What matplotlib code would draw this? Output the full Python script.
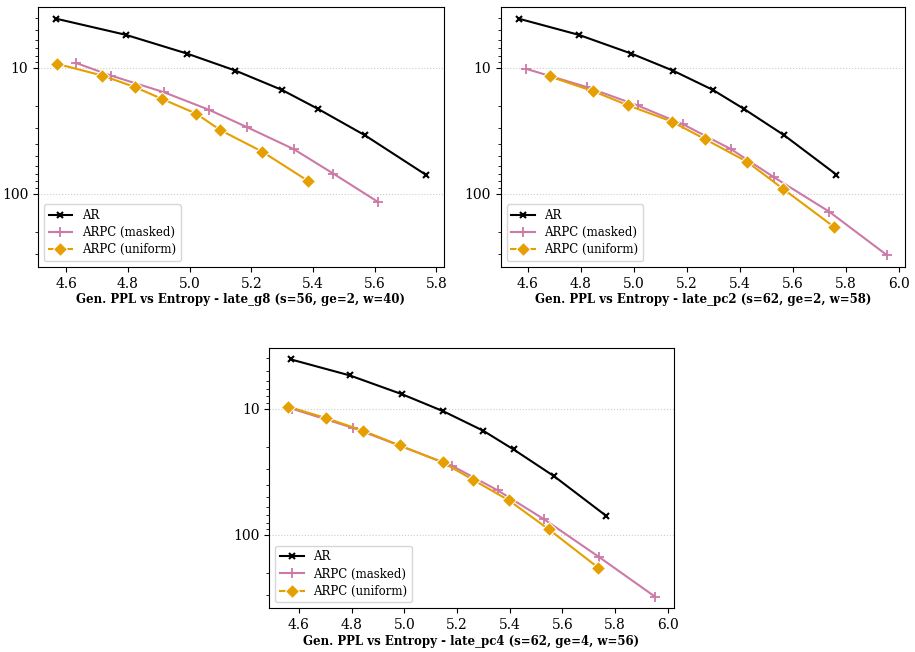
import matplotlib
matplotlib.use('Agg')
import matplotlib.pyplot as plt
from matplotlib.ticker import FuncFormatter, LogLocator, NullFormatter

plt.rcParams['font.family'] = 'DejaVu Serif'

# AR curve (same in every panel)
ar_x = [4.568, 4.793, 4.991, 5.148, 5.299, 5.415, 5.568, 5.765]
ar_y = [4.07, 5.46, 7.69, 10.5, 14.96, 21.1, 34.3, 70.5]

# late_g8
g8_masked_x = [4.630, 4.744, 4.916, 5.062, 5.186, 5.337, 5.466, 5.611]
g8_masked_y = [9.12, 11.5, 15.6, 21.5, 29.6, 44.2, 69.3, 116.4]
g8_uniform_x = [4.570, 4.716, 4.822, 4.909, 5.021, 5.100, 5.235, 5.384]
g8_uniform_y = [9.29, 11.5, 14.2, 17.6, 23.1, 31.3, 46.3, 79.2]

# late_pc2
pc2_masked_x = [4.596, 4.823, 5.015, 5.188, 5.367, 5.530, 5.738, 5.955]
pc2_masked_y = [10.2, 14.2, 19.9, 28.2, 44.2, 74.1, 139, 307]
pc2_uniform_x = [4.683, 4.847, 4.978, 5.144, 5.268, 5.429, 5.563, 5.758]
pc2_uniform_y = [11.7, 15.3, 19.8, 26.7, 36.7, 55.9, 91.2, 185]

# late_pc4
pc4_masked_x = [4.572, 4.804, 4.981, 5.181, 5.354, 5.531, 5.739, 5.953]
pc4_masked_y = [10.0, 14.2, 19.6, 28.4, 44.4, 75.5, 150, 311]
pc4_uniform_x = [4.557, 4.703, 4.844, 4.982, 5.146, 5.261, 5.397, 5.549, 5.737]
pc4_uniform_y = [9.64, 11.9, 15.0, 19.6, 26.7, 36.7, 53.4, 90.8, 183]

titles = [
    "Gen. PPL vs Entropy - late_g8 (s=56, ge=2, w=40)",
    "Gen. PPL vs Entropy - late_pc2 (s=62, ge=2, w=58)",
    "Gen. PPL vs Entropy - late_pc4 (s=62, ge=4, w=56)",
]
panels = [
    (g8_masked_x, g8_masked_y, g8_uniform_x, g8_uniform_y),
    (pc2_masked_x, pc2_masked_y, pc2_uniform_x, pc2_uniform_y),
    (pc4_masked_x, pc4_masked_y, pc4_uniform_x, pc4_uniform_y),
]

fig = plt.figure(figsize=(9.15, 6.52), dpi=100)
rects = [
    [0.0415, 0.5905, 0.4437, 0.3988],
    [0.5472, 0.5905, 0.4419, 0.3988],
    [0.2943, 0.0670, 0.4420, 0.4000],
]

axes = []
for i, rect in enumerate(rects):
    ax = fig.add_axes(rect, sharey=axes[0] if axes else None)
    axes.append(ax)
    mx, my, ux, uy = panels[i]
    ax.plot(ar_x, ar_y, color='black', marker='x', ms=4.5, mew=1.5, lw=1.5,
            label='AR')
    ax.plot(mx, my, color='#CC79A7', marker='+', ms=6.5, mew=1.3, lw=1.5,
            label='ARPC (masked)')
    ax.plot(ux, uy, color='#E69F00', marker='D', ms=7, mec='white', mew=0.75,
            lw=1.5, label='ARPC (uniform)')
    ax.set_yscale('log')
    ax.set_xlabel(titles[i], fontsize=8.5, fontweight='bold', labelpad=2)
    ax.grid(True, which='major', axis='y', linestyle=':', color='#cccccc', lw=0.8)
    ax.legend(loc='lower left', fontsize=8.5, framealpha=0.8, labelspacing=0.35)
    ax.tick_params(labelsize=10)

ax0 = axes[0]
ax0.yaxis.set_major_locator(LogLocator(base=10))
ax0.yaxis.set_minor_locator(LogLocator(base=10, subs=range(2, 10)))
ax0.yaxis.set_major_formatter(FuncFormatter(lambda v, p: f"{v:g}"))
ax0.yaxis.set_minor_formatter(NullFormatter())
ax0.set_ylim(383, 3.28)

fig.savefig('out.png', dpi=100)
